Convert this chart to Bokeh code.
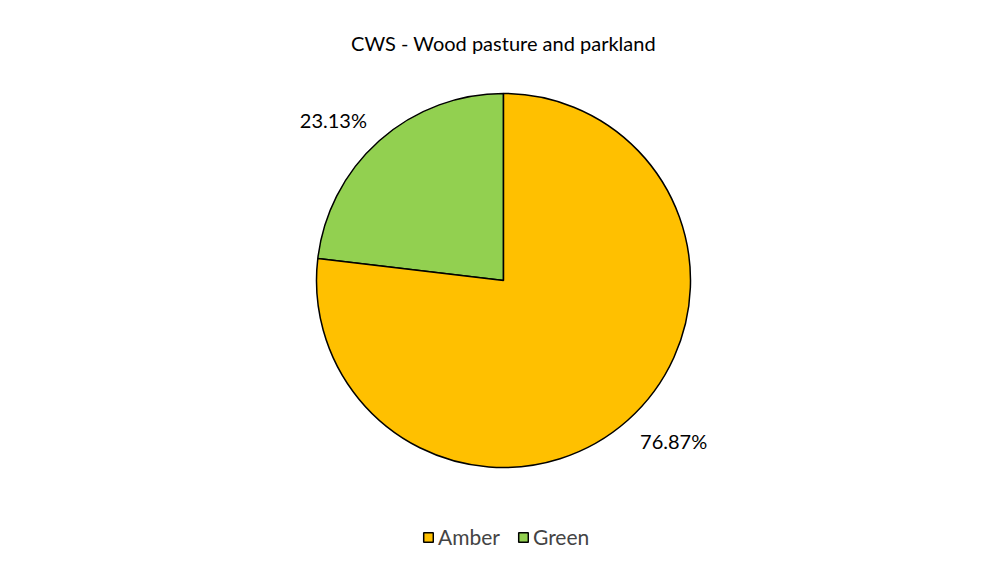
import numpy as np
from bokeh.plotting import figure
from bokeh.models import ColumnDataSource, Range1d, Legend, LegendItem, Label
from bokeh.core.properties import value
from bokeh.embed import file_html
from bokeh.resources import INLINE

# data
categories = ["Amber", "Green"]
shares = [76.87, 23.13]
colors = ["#FFC000", "#92D050"]
labels = ["76.87%", "23.13%"]

# pie goes counterclockwise from 12 o'clock: Green first, then Amber
order = [1, 0]
vals = np.array([shares[i] for i in order])
ang = vals / vals.sum() * 2 * np.pi
ends = np.pi / 2 + np.cumsum(ang)
starts = ends - ang

cx, cy, R = 503, 287, 187
mid = (starts + ends) / 2 + np.radians(5)
lab_r = 234

src = ColumnDataSource(dict(
    cat=[categories[i] for i in order],
    color=[colors[i] for i in order],
    start=starts, end=ends,
    lx=cx + lab_r * np.cos(mid), ly=cy + lab_r * np.sin(mid),
    lab=[labels[i] for i in order],
))

p = figure(width=990, height=551, output_backend="svg", toolbar_location=None,
           x_range=Range1d(0, 990), y_range=Range1d(16, 567),
           min_border=0, outline_line_color=None)
p.axis.visible = False
p.grid.visible = False

r = p.wedge(x=cx, y=cy, radius=R, radius_units="screen",
            start_angle="start", end_angle="end", fill_color="color",
            line_color="black", line_width=1.5, source=src)

p.text(x="lx", y="ly", text="lab", source=src, text_align="center",
       text_baseline="middle", text_font=value("Lato"), text_font_size="20px",
       text_color="black")

p.add_layout(Label(x=503, y=525, text="CWS - Wood pasture and parkland",
                   text_align="center", text_baseline="middle",
                   text_font="Lato", text_font_size="20px", text_color="black"))

# legend in Amber, Green order
items = [LegendItem(label=categories[i], renderers=[r], index=order.index(i)) for i in range(2)]
leg = Legend(items=items, orientation="horizontal", location=(422, 2),
             glyph_width=12, glyph_height=12, label_standoff=4, spacing=17,
             padding=0, margin=0, border_line_alpha=0, background_fill_alpha=0,
             label_text_font="Lato", label_text_font_size="21px")
p.add_layout(leg, "center")

open("out.html", "w").write(file_html(p, INLINE))
